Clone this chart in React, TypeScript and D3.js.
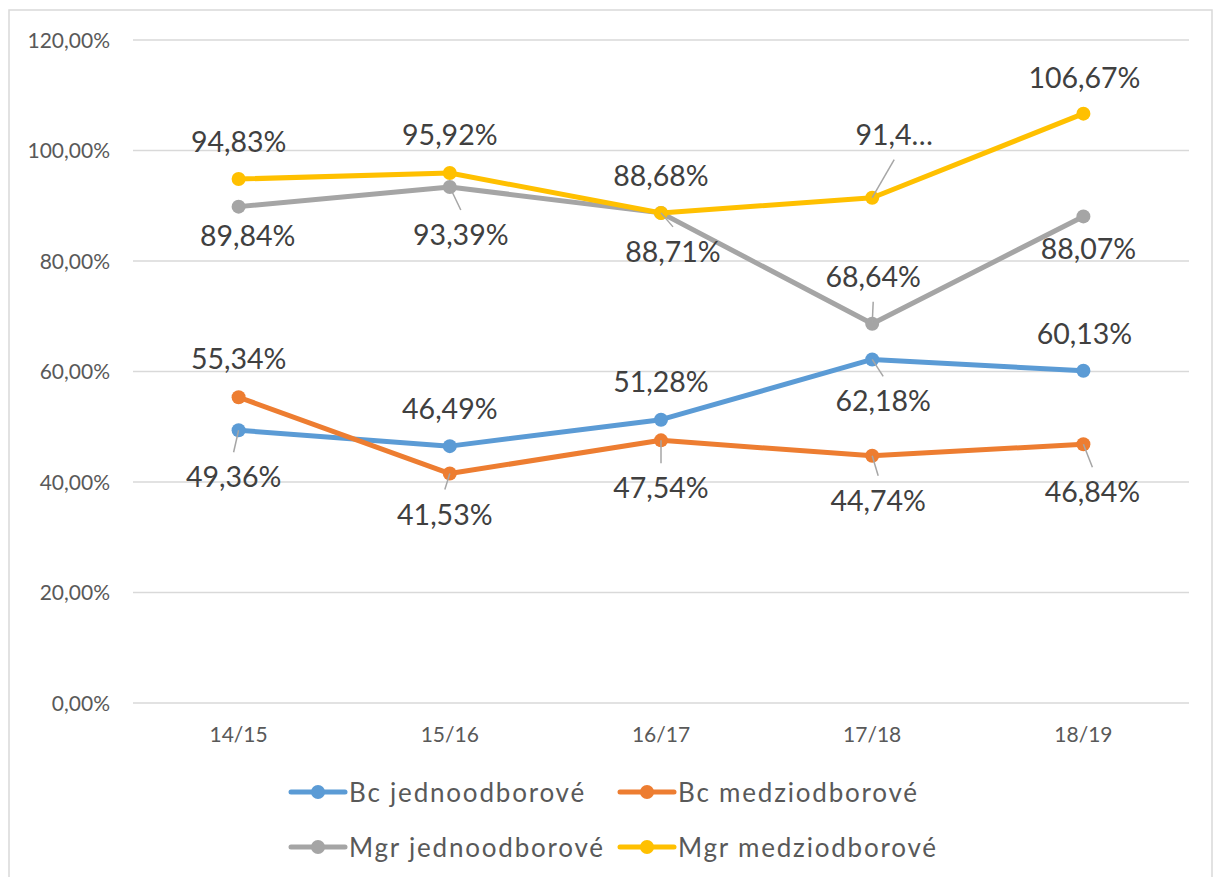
import * as d3 from "d3";
import React from "react";

// school years on the x axis
const years = ["14/15", "15/16", "16/17", "17/18", "18/19"];

// values in percent
const bcJedno = [49.36, 46.49, 51.28, 62.18, 60.13];
const bcMedzi = [55.34, 41.53, 47.54, 44.74, 46.84];
const mgrJedno = [89.84, 93.39, 88.71, 68.64, 88.07];
const mgrMedzi = [94.83, 95.92, 88.68, 91.45, 106.67];

const seriesNames = ["Bc jednoodborové", "Bc medziodborové", "Mgr jednoodborové", "Mgr medziodborové"];
const yTicks = [0, 20, 40, 60, 80, 100, 120];

const colors = ["#5B9BD5", "#ED7D31", "#A5A5A5", "#FFC000"];

// where each data label sits relative to its point (dx, dy of the label centre)
const labelOffsets = [
    [[-5, 47], [0, -37], [0, -38], [11, 42], [1, -37]],
    [[0, -38], [-5, 41], [0, 48], [6, 45], [9, 48]],
    [[9, 29], [11, 48], [12, 39], [1, -47], [5, 33]],
    [[0, -37], [0, -38], [0, -37], [22, -63], [1, -36]],
];
// the label Excel cut short
const labelOverrides: Record<string, string> = { "3-3": "91,4…" };

const W = 1214;
const H = 877;
const font = "Lato, 'Open Sans', sans-serif";

const fmt = (v: number) => d3.format(".2f")(v).replace(".", ",") + "%";

const App = () => {
    const series = [bcJedno, bcMedzi, mgrJedno, mgrMedzi];

    const x = d3.scalePoint<string>().domain(years).range([133, 1189]).padding(0.5);
    const y = d3.scaleLinear().domain([0, 120]).range([703, 40]);

    const line = d3
        .line<number>()
        .x((d, i) => x(years[i]) as number)
        .y((d) => y(d));

    // legend grid: two columns, two rows
    const legendCols = [291, 620];
    const legendRows = [792, 847];

    return (
        <div style={{ position: "absolute", left: 0, top: 0 }}>
            <svg width={W} height={H} style={{ display: "block", background: "#fff" }}>
                <rect x={9} y={10} width={1203} height={890} fill="#fff" stroke="#D9D9D9" strokeWidth={1.5} />

                {/* gridlines and y labels */}
                {yTicks.map((t) => (
                    <g key={t}>
                        <line x1={133} x2={1189} y1={y(t)} y2={y(t)} stroke="#D9D9D9" strokeWidth={1.5} />
                        <text
                            x={110}
                            y={y(t) + 7.5}
                            textAnchor="end"
                            fontFamily={font}
                            fontSize={21}
                            fill="#595959"
                        >
                            {d3.format(".2f")(t).replace(".", ",") + "%"}
                        </text>
                    </g>
                ))}

                {/* category labels */}
                {years.map((yr) => (
                    <text
                        key={yr}
                        x={x(yr)}
                        y={742}
                        textAnchor="middle"
                        fontFamily={font}
                        fontSize={21}
                        fill="#595959"
                    >
                        {yr}
                    </text>
                ))}

                {/* lines + markers */}
                {series.map((s, si) => (
                    <g key={si}>
                        <path d={line(s) as string} fill="none" stroke={colors[si]} strokeWidth={5} strokeLinejoin="round" />
                        {s.map((v, i) => (
                            <circle key={i} cx={x(years[i])} cy={y(v)} r={7} fill={colors[si]} />
                        ))}
                    </g>
                ))}

                {/* data labels with leader lines */}
                {series.map((s, si) =>
                    s.map((v, i) => {
                        const px = x(years[i]) as number;
                        const py = y(v);
                        const [dx, dy] = labelOffsets[si][i];
                        const lx = px + dx;
                        const ly = py + dy;
                        const endY = ly - Math.sign(dy) * 25;
                        const showLeader = Math.abs(dy) - 25 > 13;
                        const txt = labelOverrides[`${si}-${i}`] ?? fmt(v);
                        return (
                            <g key={`${si}-${i}`}>
                                {showLeader && (
                                    <line x1={px} y1={py} x2={lx} y2={endY} stroke="#A6A6A6" strokeWidth={1.5} />
                                )}
                                <text
                                    x={lx}
                                    y={ly + 10}
                                    textAnchor="middle"
                                    fontFamily={font}
                                    fontSize={28.5}
                                    fill="#404040"
                                >
                                    {txt}
                                </text>
                            </g>
                        );
                    })
                )}

                {/* legend */}
                {seriesNames.map((name, i) => {
                    const lx = legendCols[i % 2];
                    const ly = legendRows[Math.floor(i / 2)];
                    return (
                        <g key={name}>
                            <line x1={lx} x2={lx + 54} y1={ly} y2={ly} stroke={colors[i]} strokeWidth={5} strokeLinecap="round" />
                            <circle cx={lx + 27} cy={ly} r={7} fill={colors[i]} />
                            <text
                                x={lx + 58}
                                y={ly + 9.5}
                                fontFamily={font}
                                fontSize={26}
                                letterSpacing={1.8}
                                fill="#595959"
                            >
                                {name}
                            </text>
                        </g>
                    );
                })}
            </svg>
        </div>
    );
};

export default App;
